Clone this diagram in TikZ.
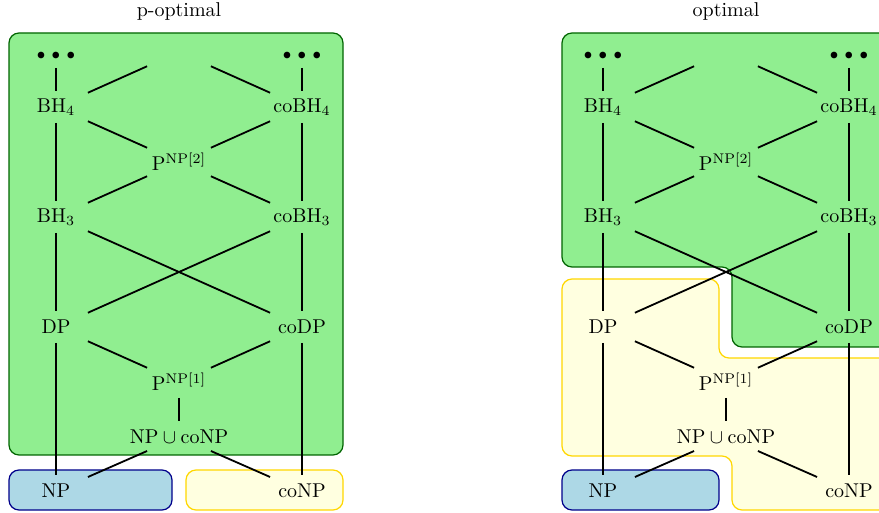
\documentclass[tikz,border=0pt]{standalone}
\usepackage{amsmath,amsfonts,amssymb}
\usepackage{tikz}
\definecolor{box_green}{RGB}{144,238,144}
\definecolor{line_green}{RGB}{0,100,0}
\definecolor{box_blue}{RGB}{173,216,230}
\definecolor{line_blue}{RGB}{0,0,139}
\definecolor{box_yellow}{RGB}{255,255,224}
\definecolor{line_yellow}{RGB}{255,215,0}
\newcommand{\tridots}{\raisebox{-4pt}[0pt][0pt]{\footnotesize$\bullet$\hspace{3.2pt}$\bullet$\hspace{3.2pt}$\bullet$}}

\begin{document}
\begin{tikzpicture}[x=0.5pt,y=-0.5pt,line width=0.9pt]
    \tikzstyle{cls}=[rectangle, minimum width=31pt, minimum height=15pt, inner sep=0pt, text=black]
    \tikzstyle{greenbox}=[draw=line_green, fill=box_green, line width=0.6pt, rounded corners=5pt]
    \tikzstyle{bluebox}=[draw=line_blue, fill=box_blue, line width=0.6pt, rounded corners=5pt]
    \tikzstyle{yellowbox}=[draw=line_yellow, fill=box_yellow, line width=0.6pt, rounded corners=5pt]
    \useasboundingbox (0,0) rectangle (879,513);

    % p-optimal
    \node (title_p) at (179,12) {p-optimal};
    \draw[greenbox] (9,33) rectangle (343,455);
    \draw[bluebox] (9,470) rectangle (172,510);
    \draw[yellowbox] (186,470) rectangle (343,510);

    \node[cls] (p_dotsl) at (56,52)   {\tridots};
    \node[cls] (p_top)   at (179,52)  {};
    \node[cls] (p_dotsr) at (302,52)  {\tridots};
    \node[cls] (p_bh4)   at (56,107)  {$\mathrm{BH}_4$};
    \node[cls] (p_cobh4) at (302,107) {$\mathrm{coBH}_4$};
    \node[cls] (p_p2)    at (179,162) {$\mathrm{P}^{\mathrm{NP}[2]}$};
    \node[cls] (p_bh3)   at (56,217)  {$\mathrm{BH}_3$};
    \node[cls] (p_cobh3) at (302,217) {$\mathrm{coBH}_3$};
    \node[cls] (p_dp)    at (56,327)  {$\mathrm{DP}$};
    \node[cls] (p_codp)  at (302,327) {$\mathrm{coDP}$};
    \node[cls] (p_p1)    at (179,382) {$\mathrm{P}^{\mathrm{NP}[1]}$};
    \node[cls] (p_union) at (179,437) {\makebox[0pt]{$\mathrm{NP}\cup\mathrm{coNP}$}};
    \node[cls] (p_np)    at (56,491)  {$\mathrm{NP}$};
    \node[cls] (p_conp)  at (302,491) {$\mathrm{coNP}$};
    \path
     (p_dotsl) edge (p_bh4)
     (p_top) edge (p_bh4)
     (p_top) edge (p_cobh4)
     (p_dotsr) edge (p_cobh4)
     (p_bh4) edge (p_bh3)
     (p_bh4) edge (p_p2)
     (p_cobh4) edge (p_p2)
     (p_cobh4) edge (p_cobh3)
     (p_p2) edge (p_bh3)
     (p_p2) edge (p_cobh3)
     (p_bh3) edge (p_dp)
     (p_bh3) edge (p_codp)
     (p_cobh3) edge (p_dp)
     (p_cobh3) edge (p_codp)
     (p_dp) edge (p_p1)
     (p_codp) edge (p_p1)
     (p_p1) edge (p_union)
     (p_dp) edge (p_np)
     (p_codp) edge (p_conp)
     (p_union) edge (p_np)
     (p_union) edge (p_conp)
     ;

    % optimal
    \node (title_o) at (726,12) {optimal};
    \draw[greenbox] (562,33) -- (890,33) -- (890,347) -- (732,347) -- (732,267) -- (562,267) -- cycle;
    \draw[yellowbox] (562,279) -- (719,279) -- (719,358) -- (890,358) -- (890,510) -- (732,510) -- (732,456) -- (562,456) -- cycle;
    \draw[bluebox] (562,470) rectangle (719,510);

    \node[cls] (o_dotsl) at (603,52)  {\tridots};
    \node[cls] (o_top)   at (726,52)  {};
    \node[cls] (o_dotsr) at (849,52)  {\tridots};
    \node[cls] (o_bh4)   at (603,107) {$\mathrm{BH}_4$};
    \node[cls] (o_cobh4) at (849,107) {$\mathrm{coBH}_4$};
    \node[cls] (o_p2)    at (726,162) {$\mathrm{P}^{\mathrm{NP}[2]}$};
    \node[cls] (o_bh3)   at (603,217) {$\mathrm{BH}_3$};
    \node[cls] (o_cobh3) at (849,217) {$\mathrm{coBH}_3$};
    \node[cls] (o_dp)    at (603,327) {$\mathrm{DP}$};
    \node[cls] (o_codp)  at (849,327) {$\mathrm{coDP}$};
    \node[cls] (o_p1)    at (726,382) {$\mathrm{P}^{\mathrm{NP}[1]}$};
    \node[cls] (o_union) at (726,437) {\makebox[0pt]{$\mathrm{NP}\cup\mathrm{coNP}$}};
    \node[cls] (o_np)    at (603,491) {$\mathrm{NP}$};
    \node[cls] (o_conp)  at (849,491) {$\mathrm{coNP}$};
    \path
     (o_dotsl) edge (o_bh4)
     (o_top) edge (o_bh4)
     (o_top) edge (o_cobh4)
     (o_dotsr) edge (o_cobh4)
     (o_bh4) edge (o_bh3)
     (o_bh4) edge (o_p2)
     (o_cobh4) edge (o_p2)
     (o_cobh4) edge (o_cobh3)
     (o_p2) edge (o_bh3)
     (o_p2) edge (o_cobh3)
     (o_bh3) edge (o_dp)
     (o_bh3) edge (o_codp)
     (o_cobh3) edge (o_dp)
     (o_cobh3) edge (o_codp)
     (o_dp) edge (o_p1)
     (o_codp) edge (o_p1)
     (o_p1) edge (o_union)
     (o_dp) edge (o_np)
     (o_codp) edge (o_conp)
     (o_union) edge (o_np)
     (o_union) edge (o_conp)
     ;
\end{tikzpicture}
\end{document}
